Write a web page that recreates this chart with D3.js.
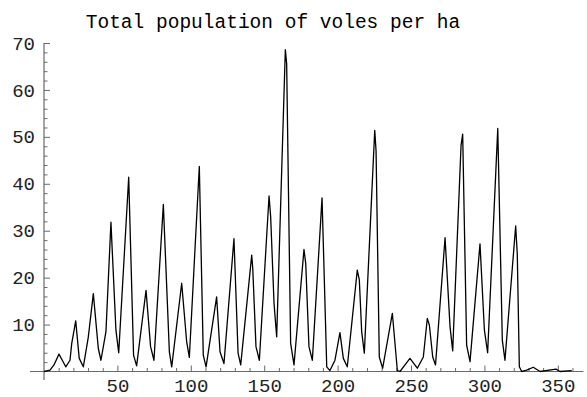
<!DOCTYPE html>
<html>
<head>
<meta charset="utf-8">
<script src="https://cdn.jsdelivr.net/npm/d3@7"></script>
<style>
  html, body { margin: 0; padding: 0; background: #fff; }
  svg { display: block; }
</style>
</head>
<body>
<svg id="chart" width="587" height="397"></svg>
<script>
// ---- data ----
const title = "Total population of voles per ha";
const days = [0, 4.1, 6.8, 10.2, 12.1, 14.8, 17.7, 18.9, 21.6, 24, 26.8,
  30.2, 33.6, 37, 38.8, 42.2, 45.6, 49, 50.9, 57.7, 61, 63.1,
  69.5, 72.6, 74.9, 81.3, 85.4, 87, 93.8, 97.2, 99, 105.8, 108.5, 110.4,
  117.6, 119.9, 122.6, 129.4, 132.2, 134, 141.5, 142.2, 144.4, 146.7,
  153.3, 154.4, 156.7, 158.5, 164.4, 165.3, 168, 170.3, 177.1, 178.3, 180.5, 182.8,
  189.4, 192.6, 194.8, 198.2, 201.6, 203.9, 206.6, 213.4, 214.8, 216.4, 218.2,
  225.3, 226.2, 228.4, 230.7, 237.3, 240.7, 242.5, 245.9, 249.3, 254.3,
  258.4, 261.1, 262.5, 264.8, 266.7, 273.2, 276.6, 278.4, 284.1, 285.2, 287.9, 290.2,
  297, 300, 302.2, 309.1, 312.2, 314, 321.3, 322.4, 323.8, 325.4,
  328.8, 333.3, 337.9, 348.8, 351.5, 359.5];
const voles = [0, 0.3, 1.4, 3.7, 2.6, 1.0, 2.4, 6.0, 10.8, 2.8, 1.0,
  7.4, 16.6, 4.9, 2.4, 8.5, 31.8, 8.8, 4.0, 41.4, 3.5, 1.2,
  17.3, 5.3, 2.4, 35.6, 4.2, 1.0, 18.8, 6.3, 3.0, 43.7, 3.5, 1.0,
  15.9, 4.2, 1.7, 28.3, 3.9, 1.4, 24.8, 22, 5.3, 2.4,
  37.4, 33, 14.5, 7.4, 68.6, 65.6, 6.0, 1.4, 26, 23, 5.3, 2.4,
  37.0, 1.0, 0.2, 2.4, 8.3, 2.8, 1.0, 21.6, 19.5, 8.5, 3.9,
  51.4, 47, 3.1, 0.7, 12.4, 0.2, 0, 1.4, 2.8, 0.7,
  3.1, 11.3, 9.9, 3.1, 1.4, 28.5, 9.5, 4.4, 48.2, 50.6, 5.6, 2.1,
  27.2, 8.8, 4.0, 51.8, 6.7, 2.4, 31.0, 25, 1.0, 0,
  0.3, 0.9, 0, 0.5, 0, 0.2];
const xMajorTicks = [50, 100, 150, 200, 250, 300, 350];
const xMinorTicks = [10, 20, 30, 40, 60, 70, 80, 90, 110, 120, 130, 140, 160, 170, 180, 190,
  210, 220, 230, 240, 260, 270, 280, 290, 310, 320, 330, 340, 360];
const yMajorTicks = [10, 20, 30, 40, 50, 60, 70];
const yMinorTicks = [2, 4, 6, 8, 12, 14, 16, 18, 22, 24, 26, 28, 32, 34, 36, 38,
  42, 44, 46, 48, 52, 54, 56, 58, 62, 64, 66, 68];

// ---- drawing ----
const svg = d3.select("#chart");
const font = "'Liberation Mono', 'Courier New', monospace";
const axisColor = "#6a6a6a";

const x = d3.scaleLinear().domain([0, 350]).range([44, 557.8]);
const y = d3.scaleLinear().domain([0, 70]).range([371.5, 43]);

// axis lines (extend over plot range padding)
svg.append("line")
  .attr("x1", x(-9.5)).attr("x2", x(367.5))
  .attr("y1", y(0)).attr("y2", y(0))
  .attr("stroke", axisColor).attr("stroke-width", 1.2);
svg.append("line")
  .attr("x1", x(0)).attr("x2", x(0))
  .attr("y1", y(-1.8)).attr("y2", y(70))
  .attr("stroke", axisColor).attr("stroke-width", 1.2);

function styleAxis(g) {
  g.select(".domain").remove();
  g.selectAll(".tick line").attr("stroke", axisColor).attr("stroke-width", 1);
  g.selectAll("text").attr("font-family", font).attr("font-size", 19).attr("fill", "#222");
}

// x axis major + minor
svg.append("g").attr("transform", `translate(0,${y(0)})`)
  .call(d3.axisBottom(x).tickValues(xMajorTicks).tickSizeInner(-6).tickSizeOuter(0).tickPadding(7))
  .call(styleAxis);
svg.append("g").attr("transform", `translate(0,${y(0)})`)
  .call(d3.axisBottom(x).tickValues(xMinorTicks).tickSizeInner(-3.5).tickSizeOuter(0).tickFormat(""))
  .call(styleAxis);

// y axis major + minor
svg.append("g").attr("transform", `translate(${x(0)},0)`)
  .call(d3.axisLeft(y).tickValues(yMajorTicks).tickSizeInner(-6).tickSizeOuter(0).tickPadding(9))
  .call(styleAxis);
svg.append("g").attr("transform", `translate(${x(0)},0)`)
  .call(d3.axisLeft(y).tickValues(yMinorTicks).tickSizeInner(-3.5).tickSizeOuter(0).tickFormat(""))
  .call(styleAxis);

// series line
const pts = days.map((d, i) => [d, voles[i]]);
svg.append("path")
  .datum(pts)
  .attr("fill", "none")
  .attr("stroke", "#000")
  .attr("stroke-width", 1.3)
  .attr("stroke-linejoin", "round")
  .attr("d", d3.line().x(d => x(d[0])).y(d => y(d[1])));

// title
svg.append("text")
  .attr("x", 273).attr("y", 28)
  .attr("text-anchor", "middle")
  .attr("font-family", font).attr("font-size", 19.5).attr("fill", "#000")
  .text(title);
</script>
</body>
</html>
